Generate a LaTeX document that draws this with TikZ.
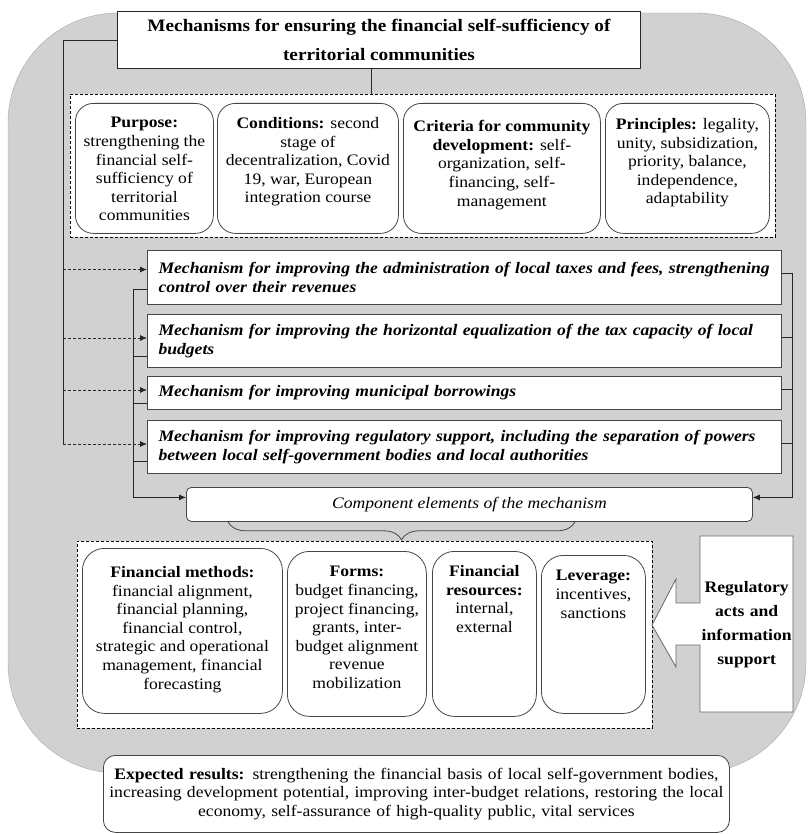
\documentclass[tikz,border=0pt]{standalone}
\usepackage{fontspec}
\setmainfont{Liberation Serif}[FakeStretch=1.1]
\usetikzlibrary{arrows.meta,decorations.pathreplacing}
\definecolor{bggray}{RGB}{209,209,209}
\definecolor{edgegray}{RGB}{70,70,70}
\newcommand{\bodyfont}{\fontsize{16}{18.6}\selectfont}
\newcommand{\mechfont}{\fontsize{16}{19}\selectfont\bfseries\itshape}
\newcommand{\titlefont}{\fontsize{17.5}{29}\selectfont\bfseries}
\newcommand{\compfont}{\fontsize{16}{19}\selectfont\itshape}
\newcommand{\regfont}{\fontsize{16}{24}\selectfont\bfseries}
% width, height, top gap, text
\newcommand{\celltext}[4]{\parbox[t][#2][t]{#1}{\vspace*{#3}\centering #4\par}}

\begin{document}
\begin{tikzpicture}[x=1pt,y=-1pt,
  every node/.style={font=\bodyfont},
  cell/.style={draw=edgegray, fill=white, line width=0.8pt, rounded corners=18pt,
    inner xsep=2pt, inner ysep=0pt, anchor=north west},
  frame/.style={draw=black, fill=white, dash pattern=on 3pt off 2pt, line width=0.7pt,
    inner sep=0pt, anchor=north west},
  mechbox/.style={draw=edgegray, fill=white, line width=1pt, anchor=north west,
    text width=612pt, align=left, inner xsep=11pt, inner ysep=0pt, font=\mechfont},
  link/.style={draw=black!85, line width=0.8pt},
  tolink/.style={link, -{Latex[length=7pt,width=6pt]}},
  dashlink/.style={tolink, dash pattern=on 3pt off 2pt}]
\useasboundingbox (0,0) rectangle (809,834);

% background
\fill[bggray, draw=black!35, rounded corners=110pt] (8,13) rectangle (806,773);

% title
\node[draw=black!85, fill=white, line width=1pt, anchor=north west, minimum width=523pt,
  minimum height=57pt, align=center, font=\titlefont, inner sep=0pt] (title) at (117,11)
  {Mechanisms for ensuring the financial self-sufficiency of\\ territorial communities};

% upper block
\node[frame, minimum width=705pt, minimum height=143pt] (toprow) at (70,94) {};
\node[cell] (purpose) at (75,103) {\celltext{134pt}{130pt}{14pt}{\textbf{Purpose:}\\
  strengthening the\\ financial self-\\ sufficiency of\\ territorial\\ communities}};
\node[cell] (conditions) at (217,103) {\celltext{177pt}{130pt}{14pt}{\textbf{Conditions:} second\\
  stage of\\ decentralization, Covid\\ 19, war, European\\ integration course}};
\node[cell] (criteria) at (403,103) {\celltext{193pt}{130pt}{17pt}{\textbf{Criteria for community}\\
  \textbf{development:} self-\\ organization, self-\\ financing, self-\\ management}};
\node[cell] (principles) at (605,103) {\celltext{160pt}{130pt}{15pt}{\textbf{Principles:} legality,\\
  unity, subsidization,\\ priority, balance,\\ independence,\\ adaptability}};

% mechanisms
\node[mechbox, minimum height=54pt] (mech1) at (147,250)
  {Mechanism for improving the administration of local taxes and fees, strengthening\\ control over their revenues};
\node[mechbox, minimum height=53pt] (mech2) at (147,314)
  {Mechanism for improving the horizontal equalization of the tax capacity of local\\ budgets};
\node[mechbox, minimum height=33pt] (mech3) at (147,376)
  {Mechanism for improving municipal borrowings};
\node[mechbox, minimum height=53pt] (mech4) at (147,420)
  {Mechanism for improving regulatory support, including the separation of powers\\ between local self-government bodies and local authorities};

% components
\node[draw=edgegray, fill=white, line width=0.8pt, rounded corners=5pt, anchor=north west,
  minimum width=566pt, minimum height=34pt, font=\compfont] (comp) at (186,487)
  {Component elements of the mechanism};

% lower block
\node[frame, minimum width=575pt, minimum height=187pt] (lowrow) at (77,541) {};
\node[cell, rounded corners=22pt] (methods) at (82,548) {\celltext{196pt}{165pt}{18pt}{\textbf{Financial methods:}\\
  financial alignment,\\ financial planning,\\ financial control,\\ strategic and operational\\
  management, financial\\ forecasting}};
\node[cell, rounded corners=22pt] (forms) at (287,551) {\celltext{135pt}{165pt}{15pt}{\textbf{Forms:}\\
  budget financing,\\ project financing,\\ grants, inter-\\ budget alignment\\ revenue\\ mobilization}};
\node[cell, rounded corners=22pt] (resources) at (432,551) {\celltext{100pt}{165pt}{14pt}{\textbf{Financial}\\
  \textbf{resources:}\\ internal,\\ external}};
\node[cell, rounded corners=22pt] (leverage) at (541,555) {\celltext{100pt}{158pt}{15pt}{\textbf{Leverage:}\\
  incentives,\\ sanctions}};

% regulatory acts with arrow
\draw[draw=black!60, fill=white, line width=0.8pt] (700,536) coordinate (regnw)
  -- ++(93,0) -- ++(0,176) -- ++(-93,0) -- ++(0,-67) -- ++(-24,0) -- ++(0,22)
  -- ++(-24,-42) -- ++(24,-46) -- ++(0,24) -- ++(24,0) -- cycle;
\node[anchor=north west, minimum width=93pt, minimum height=176pt, text width=93pt,
  inner sep=0pt, align=center, font=\regfont] (regacts) at (regnw)
  {Regulatory\\ acts and\\ information\\ support};

% results
\node[draw=edgegray, fill=white, line width=0.8pt, rounded corners=12pt, anchor=north west,
  minimum width=626pt, minimum height=77pt, text width=620pt, inner xsep=3pt,
  align=center] (results) at (103,755)
  {\textbf{Expected results:} strengthening the financial basis of local self-government bodies,\\
  increasing development potential, improving inter-budget relations, restoring the local\\
  economy, self-assurance of high-quality public, vital services};

% connectors
\draw[link] ([xshift=-8pt]title.south) -- ++(0,26);
\foreach \m/\dy in {1/8,2/3,3/3,4/3}
  \path ([yshift=\dy pt]mech\m.west) coordinate (in\m);
\draw[link] (title.west) -| ([xshift=-84pt]in4);
\foreach \m in {1,...,4}
  \draw[dashlink] ([xshift=-84pt]in\m) -- (in\m);

\draw[tolink] ([yshift=-12pt]mech1.west) -- ++(-14,0) |- ([yshift=7pt]comp.west);
\foreach \m/\dy in {2/15,3/10,4/14}
  \draw[link] ([yshift=-\dy pt]mech\m.west) -- ++(-14,0);

\draw[tolink] ([yshift=4pt]mech1.east) -- ++(10,0) |- ([yshift=7pt]comp.east);
\foreach \m in {2,3,4}
  \draw[link] ([yshift=4pt]mech\m.east) -- ++(10,0);

\draw[link, draw=edgegray, decorate, decoration={brace, mirror, amplitude=18pt}]
  ([xshift=42pt]comp.south west) -- ([xshift=389pt]comp.south west);
\end{tikzpicture}
\end{document}
